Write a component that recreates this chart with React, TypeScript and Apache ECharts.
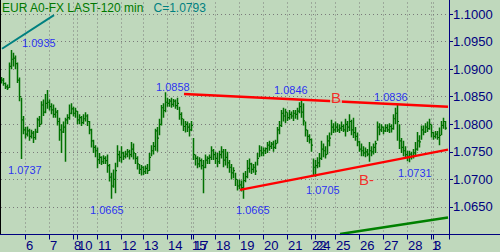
import React, { useEffect, useRef } from 'react';
import * as echarts from 'echarts';

// Trading days shown on the time axis and the number of 2-hour bars in each
const dayLabels = ['5', '6', '7', '8', '10', '11', '12', '13', '14', '15', '17', '18', '19', '20', '21', '22', '24', '25', '26', '27', '28', '1', '3'];
const barsPerDay = [12, 12, 12, 2, 10, 12, 11, 12, 12, 1, 11, 12, 12, 12, 12, 2, 10, 12, 12, 12, 12, 1, 8];

// Price bars (close / high / low), EUR 120-min
const closes = [
  1.0880, 1.0874, 1.0868, 1.0866, 1.0905, 1.0918, 1.0920, 1.0910, 1.0880, 1.0850, 1.0808, 1.0790,
  1.0782, 1.0788, 1.0778, 1.0784, 1.0776, 1.0786, 1.0808, 1.0800, 1.0835, 1.0822, 1.0838, 1.0840,
  1.0832, 1.0826, 1.0818, 1.0822, 1.0805, 1.0790, 1.0786, 1.0795, 1.0808, 1.0812, 1.0820, 1.0828,
  1.0820, 1.0824,
  1.0808, 1.0812, 1.0803, 1.0810, 1.0815, 1.0805, 1.0790, 1.0770, 1.0758, 1.0752,
  1.0736, 1.0740, 1.0732, 1.0738, 1.0734, 1.0725, 1.0704, 1.0688, 1.0700, 1.0716, 1.0745, 1.0740,
  1.0748, 1.0742, 1.0746, 1.0750, 1.0745, 1.0755, 1.0748, 1.0738, 1.0728, 1.0718, 1.0722,
  1.0714, 1.0720, 1.0716, 1.0740, 1.0752, 1.0760, 1.0788, 1.0775, 1.0800, 1.0830, 1.0825, 1.0840,
  1.0838, 1.0842, 1.0836, 1.0842, 1.0834, 1.0838, 1.0818, 1.0810, 1.0796, 1.0800, 1.0795, 1.0790,
  1.0798,
  1.0745, 1.0738, 1.0728, 1.0734, 1.0725, 1.0722, 1.0735, 1.0738, 1.0740, 1.0752, 1.0745,
  1.0738, 1.0732, 1.0745, 1.0750, 1.0735, 1.0740, 1.0730, 1.0722, 1.0712, 1.0716, 1.0700, 1.0688,
  1.0690, 1.0685, 1.0698, 1.0705, 1.0720, 1.0728, 1.0718, 1.0722, 1.0715, 1.0738, 1.0752, 1.0748,
  1.0752, 1.0756, 1.0762, 1.0760, 1.0764, 1.0758, 1.0765, 1.0790, 1.0798, 1.0820, 1.0815, 1.0822,
  1.0812, 1.0818, 1.0815, 1.0820, 1.0818, 1.0824, 1.0832, 1.0822, 1.0806, 1.0790, 1.0778, 1.0772,
  1.0762, 1.0722,
  1.0725, 1.0730, 1.0738, 1.0755, 1.0752, 1.0745, 1.0770, 1.0775, 1.0795, 1.0790,
  1.0795, 1.0790, 1.0793, 1.0796, 1.0790, 1.0800, 1.0795, 1.0805, 1.0790, 1.0785, 1.0778, 1.0768,
  1.0755, 1.0752, 1.0748, 1.0750, 1.0746, 1.0752, 1.0750, 1.0758, 1.0765, 1.0795, 1.0790, 1.0795,
  1.0788, 1.0794, 1.0790, 1.0796, 1.0792, 1.0810, 1.0820, 1.0805, 1.0770, 1.0758, 1.0752, 1.0745,
  1.0742, 1.0746, 1.0742, 1.0748, 1.0755, 1.0770, 1.0768, 1.0790, 1.0786, 1.0795, 1.0792, 1.0800,
  1.0785,
  1.0778, 1.0782, 1.0776, 1.0780, 1.0798, 1.0805, 1.0793,
];
const highs = [
  1.0886, 1.0884, 1.0876, 1.0872, 1.0912, 1.0935, 1.0930, 1.0925, 1.0912, 1.0885, 1.0848, 1.0815,
  1.0795, 1.0796, 1.0792, 1.0790, 1.0788, 1.0792, 1.0812, 1.0815, 1.0842, 1.0845, 1.0855, 1.0862,
  1.0845, 1.0838, 1.0836, 1.0830, 1.0826, 1.0812, 1.0800, 1.0805, 1.0812, 1.0818, 1.0836, 1.0838,
  1.0832, 1.0830,
  1.0824, 1.0818, 1.0815, 1.0818, 1.0822, 1.0818, 1.0806, 1.0792, 1.0772, 1.0762,
  1.0758, 1.0748, 1.0742, 1.0744, 1.0742, 1.0745, 1.0728, 1.0712, 1.0718, 1.0730, 1.0762, 1.0752,
  1.0760, 1.0750, 1.0752, 1.0755, 1.0754, 1.0768, 1.0765, 1.0748, 1.0742, 1.0728, 1.0726,
  1.0724, 1.0725, 1.0728, 1.0748, 1.0762, 1.0768, 1.0792, 1.0795, 1.0810, 1.0835, 1.0838, 1.0858,
  1.0848, 1.0846, 1.0848, 1.0846, 1.0845, 1.0848, 1.0832, 1.0822, 1.0810, 1.0806, 1.0805, 1.0802,
  1.0806,
  1.0775, 1.0745, 1.0742, 1.0740, 1.0738, 1.0735, 1.0745, 1.0742, 1.0745, 1.0760, 1.0755,
  1.0750, 1.0748, 1.0752, 1.0760, 1.0755, 1.0755, 1.0750, 1.0735, 1.0728, 1.0722, 1.0712, 1.0700,
  1.0700, 1.0698, 1.0712, 1.0715, 1.0735, 1.0738, 1.0730, 1.0728, 1.0732, 1.0748, 1.0762, 1.0760,
  1.0758, 1.0758, 1.0768, 1.0770, 1.0768, 1.0770, 1.0772, 1.0795, 1.0806, 1.0826, 1.0830, 1.0828,
  1.0822, 1.0826, 1.0823, 1.0826, 1.0826, 1.0830, 1.0840, 1.0846, 1.0838, 1.0805, 1.0790, 1.0782,
  1.0774, 1.0738,
  1.0735, 1.0740, 1.0748, 1.0770, 1.0765, 1.0760, 1.0780, 1.0785, 1.0808, 1.0802,
  1.0805, 1.0802, 1.0800, 1.0805, 1.0800, 1.0810, 1.0806, 1.0818, 1.0808, 1.0812, 1.0795, 1.0785,
  1.0770, 1.0765, 1.0760, 1.0758, 1.0755, 1.0768, 1.0760, 1.0765, 1.0770, 1.0805, 1.0802, 1.0800,
  1.0796, 1.0800, 1.0800, 1.0802, 1.0800, 1.0818, 1.0830, 1.0836, 1.0800, 1.0775, 1.0770, 1.0760,
  1.0752, 1.0752, 1.0750, 1.0755, 1.0768, 1.0786, 1.0780, 1.0798, 1.0798, 1.0802, 1.0805, 1.0810,
  1.0800,
  1.0786, 1.0788, 1.0788, 1.0794, 1.0806, 1.0812, 1.0806,
];
const lows = [
  1.0874, 1.0870, 1.0864, 1.0862, 1.0866, 1.0900, 1.0905, 1.0900, 1.0875, 1.0842, 1.0737, 1.0782,
  1.0774, 1.0778, 1.0770, 1.0774, 1.0766, 1.0772, 1.0784, 1.0795, 1.0800, 1.0815, 1.0820, 1.0828,
  1.0825, 1.0818, 1.0812, 1.0812, 1.0798, 1.0770, 1.0748, 1.0784, 1.0732, 1.0800, 1.0808, 1.0818,
  1.0814, 1.0812,
  1.0800, 1.0800, 1.0797, 1.0800, 1.0805, 1.0797, 1.0782, 1.0758, 1.0748, 1.0740,
  1.0720, 1.0728, 1.0726, 1.0728, 1.0728, 1.0712, 1.0696, 1.0665, 1.0685, 1.0675, 1.0722, 1.0732,
  1.0730, 1.0735, 1.0738, 1.0740, 1.0736, 1.0740, 1.0736, 1.0728, 1.0718, 1.0710, 1.0707,
  1.0708, 1.0710, 1.0710, 1.0715, 1.0742, 1.0745, 1.0752, 1.0750, 1.0780, 1.0798, 1.0812, 1.0822,
  1.0832, 1.0832, 1.0830, 1.0832, 1.0828, 1.0826, 1.0808, 1.0798, 1.0788, 1.0785, 1.0786, 1.0778,
  1.0788,
  1.0735, 1.0725, 1.0720, 1.0722, 1.0718, 1.0675, 1.0720, 1.0728, 1.0728, 1.0735, 1.0735,
  1.0728, 1.0722, 1.0728, 1.0738, 1.0722, 1.0725, 1.0720, 1.0712, 1.0700, 1.0702, 1.0688, 1.0680,
  1.0682, 1.0678, 1.0665, 1.0695, 1.0702, 1.0712, 1.0710, 1.0712, 1.0708, 1.0725, 1.0740, 1.0742,
  1.0742, 1.0746, 1.0748, 1.0752, 1.0755, 1.0750, 1.0755, 1.0765, 1.0782, 1.0795, 1.0805, 1.0802,
  1.0806, 1.0808, 1.0810, 1.0806, 1.0810, 1.0808, 1.0820, 1.0812, 1.0798, 1.0778, 1.0768, 1.0765,
  1.0750, 1.0708,
  1.0705, 1.0720, 1.0722, 1.0735, 1.0740, 1.0738, 1.0745, 1.0760, 1.0780, 1.0784,
  1.0785, 1.0786, 1.0784, 1.0788, 1.0786, 1.0778, 1.0786, 1.0788, 1.0780, 1.0775, 1.0770, 1.0760,
  1.0750, 1.0742, 1.0742, 1.0740, 1.0742, 1.0732, 1.0742, 1.0745, 1.0748, 1.0770, 1.0780, 1.0786,
  1.0782, 1.0786, 1.0786, 1.0784, 1.0785, 1.0790, 1.0800, 1.0770, 1.0755, 1.0748, 1.0742, 1.0740,
  1.0733, 1.0731, 1.0736, 1.0738, 1.0742, 1.0752, 1.0758, 1.0772, 1.0780, 1.0784, 1.0786, 1.0790,
  1.0776,
  1.0772, 1.0774, 1.0772, 1.0762, 1.0780, 1.0792, 1.0790,
];

// Drawn trend lines: [bar index, price]
const resistanceB = [[91, 1.0855], [223, 1.0832]];
const supportB = [[119, 1.0681], [223, 1.0754]];
const tealTrend = [[0, 1.0937], [26, 1.0998]];
const greenTrend = [[169, 1.0601], [223, 1.0631]];

// Price annotations: text, bar index, price level of the label
const blueNotes = [
  { text: '1.0935', i: 10, v: 1.09466 },
  { text: '1.0737', i: 3, v: 1.07162 },
  { text: '1.0665', i: 44, v: 1.06451 },
  { text: '1.0858', i: 77, v: 1.08673 },
  { text: '1.0846', i: 136, v: 1.08613 },
  { text: '1.0836', i: 186, v: 1.08492 },
  { text: '1.0665', i: 117, v: 1.06451 },
  { text: '1.0705', i: 152, v: 1.06801 },
  { text: '1.0731', i: 198, v: 1.07117 },
];
const redNotes = [
  { text: 'B', i: 164, v: 1.08492 },
  { text: 'B-', i: 178, v: 1.07004 },
];

const yTicks = { min: 1.06, max: 1.105, step: 0.005 };

const BG = '#bfd8bc';
const NAVY = '#000080';
const BAR_GREEN = '#007000';
const FONT = "'Liberation Sans', Arial, sans-serif";

export default function App() {
  const ref = useRef<HTMLDivElement>(null);

  useEffect(() => {
    document.body.style.margin = '0';
    if (!ref.current) return;
    const chart = echarts.init(ref.current, null, { renderer: 'svg' });

    const categories: string[] = [];
    dayLabels.forEach((d, k) => {
      for (let b = 0; b < barsPerDay[k]; b++) categories.push(`${d}-${b}`);
    });
    const lastIdx = categories.length - 1;
    const isDayStart = (idx: number, val?: string) => {
      const v = val ?? categories[idx];
      return idx > 0 && typeof v === 'string' && v.endsWith('-0');
    };

    const ohlc = closes.map((c, i) => [i, c, highs[i], lows[i]]);

    const option: any = {
      animation: false,
      backgroundColor: BG,
      grid: { left: 1, right: 51, top: -13.5, bottom: 17.5, containLabel: false, outerBoundsMode: 'none' },
      xAxis: {
        type: 'category',
        data: categories,
        boundaryGap: true,
        axisLine: { show: true, lineStyle: { color: NAVY, width: 1 } },
        axisTick: { show: true, interval: (i: number, v: string) => isDayStart(i, v), length: 5, lineStyle: { color: NAVY } },
        axisLabel: {
          // the trailing blank label keeps the overlapping "1" and "3" both visible
          interval: (i: number, v: string) => isDayStart(i, v) || i === lastIdx,
          formatter: (v: string, i: number) => (v.endsWith('-0') ? v.split('-')[0] : ' '),
          hideOverlap: false,
          align: 'left',
          margin: 4,
          color: NAVY,
          fontSize: 13,
          fontFamily: FONT,
        },
        splitLine: { show: true, interval: (i: number, v: string) => isDayStart(i, v), lineStyle: { color: '#7a7a7a', type: [1, 3], width: 1 } },
      },
      yAxis: {
        type: 'value',
        position: 'right',
        min: yTicks.min,
        max: yTicks.max,
        interval: yTicks.step,
        axisLine: { show: true, lineStyle: { color: NAVY, width: 1 } },
        axisTick: { show: true, length: 4, lineStyle: { color: NAVY } },
        axisLabel: {
          showMinLabel: false,
          showMaxLabel: false,
          formatter: (v: number) => v.toFixed(4),
          margin: 4,
          color: NAVY,
          fontSize: 13,
          fontFamily: FONT,
        },
        splitLine: { show: true, lineStyle: { color: '#7a7a7a', type: [1, 3], width: 1 } },
      },
      series: [
        {
          type: 'custom',
          name: 'EUR',
          data: ohlc,
          clip: true,
          encode: { x: 0, y: [1, 2, 3] },
          z: 3,
          renderItem: (params: any, api: any) => {
            const idx = api.value(0);
            const x = api.coord([idx, api.value(1)])[0];
            const yc = api.coord([idx, api.value(1)])[1];
            let yh = api.coord([idx, api.value(2)])[1];
            let yl = api.coord([idx, api.value(3)])[1];
            if (yl - yh < 1) { yh -= 0.5; yl += 0.5; }
            const xs = Math.round(x) - 0.5;
            return {
              type: 'group',
              children: [
                { type: 'line', shape: { x1: xs, y1: yh, x2: xs, y2: yl }, style: { stroke: BAR_GREEN, lineWidth: 1.5 } },
                { type: 'line', shape: { x1: xs, y1: yc, x2: xs + 1.5, y2: yc }, style: { stroke: BAR_GREEN, lineWidth: 1.2 } },
              ],
            };
          },
        },
        {
          type: 'line', data: resistanceB, symbol: 'none', z: 4,
          lineStyle: { color: '#ff0000', width: 2.5 },
        },
        {
          type: 'line', data: supportB, symbol: 'none', z: 4,
          lineStyle: { color: '#ff0000', width: 2.5 },
        },
        {
          type: 'line', data: tealTrend, symbol: 'none', z: 4,
          lineStyle: { color: '#008080', width: 2 },
        },
        {
          type: 'line', data: greenTrend, symbol: 'none', z: 4,
          lineStyle: { color: '#008000', width: 2.5 },
        },
        {
          type: 'scatter', symbolSize: 0, z: 6,
          data: blueNotes.map((n) => ({ value: [n.i, n.v], name: n.text })),
          label: {
            show: true, position: 'right', distance: 0, align: 'left', verticalAlign: 'middle',
            formatter: (p: any) => p.name, color: '#0000ff', fontSize: 11, fontFamily: FONT,
          },
        },
        {
          type: 'scatter', symbolSize: 0, z: 7,
          data: redNotes.map((n) => ({ value: [n.i, n.v], name: n.text })),
          label: {
            show: true, position: 'right', distance: 0, align: 'left', verticalAlign: 'middle',
            formatter: (p: any) => p.name, color: '#ff0000', fontSize: 15, fontFamily: FONT,
            backgroundColor: BG, padding: [0, 1, 0, 1],
          },
        },
      ],
      graphic: [
        { type: 'line', silent: true, z: 10, shape: { x1: 0.5, y1: 0, x2: 0.5, y2: 234.5 }, style: { stroke: '#000000', lineWidth: 1 } },
        { type: 'line', silent: true, z: 10, shape: { x1: 0, y1: 234.5, x2: 500, y2: 234.5 }, style: { stroke: NAVY, lineWidth: 1 } },
        {
          type: 'text', x: 2, y: 8, z: 10,
          style: { text: 'EUR A0-FX LAST-120 min', fill: '#007800', font: `12px ${FONT}`, textVerticalAlign: 'middle', verticalAlign: 'middle' },
        },
        {
          type: 'text', x: 153.5, y: 8, z: 10,
          style: { text: `C=${closes[closes.length - 1].toFixed(4)}`, fill: '#008080', font: `12px ${FONT}`, textVerticalAlign: 'middle', verticalAlign: 'middle' },
        },
      ],
    };

    chart.setOption(option);
    return () => chart.dispose();
  }, []);

  return <div ref={ref} style={{ width: 500, height: 252 }} />;
}
